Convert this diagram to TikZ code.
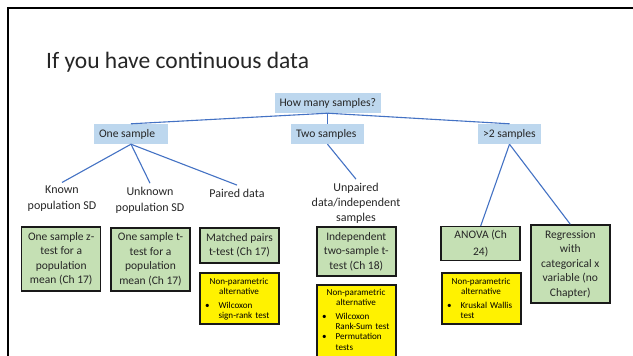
\documentclass[tikz,border=0pt]{standalone}
\usepackage{fontspec}
\setmainfont{Carlito}
\definecolor{gfill}{HTML}{C5E0B4}
\definecolor{bfill}{HTML}{BDD7EE}
\definecolor{lnc}{HTML}{4472C4}
\definecolor{txt}{HTML}{262626}
\newcommand{\nphead}{{\centering\rule{0pt}{7pt}Non-parametric\\alternative\par}\vspace{3.5pt}}
\newcommand{\npitem}[1]{\par\raggedright\leftskip=19pt\relax\noindent\llap{\textbullet\hspace{9pt}}#1\par}
\tikzset{
 gbox/.style={draw=black!90, line width=1.5pt, fill=gfill, minimum width=79pt, align=center, inner sep=0pt, text=txt, font=\fontsize{11.5}{14.5}\selectfont},
 bbox/.style={fill=bfill, inner xsep=5pt, inner ysep=0pt, minimum height=20pt, text=txt, font=\fontsize{11.6}{14}\selectfont},
 ybox/.style={draw=black!90, line width=1.3pt, fill=yellow, minimum width=79pt, inner sep=0pt},
 ytxt/.style={text width=79pt, inner sep=0pt, anchor=north west, font=\fontsize{9.1}{10.3}\selectfont, text=black},
 lbl/.style={align=center, inner sep=3.5pt, text=txt, font=\fontsize{12}{16}\selectfont},
 conn/.style={draw=lnc, line width=1.1pt},
}
\begin{document}
\begin{tikzpicture}[x=1pt,y=-1pt]
\useasboundingbox (0,0) rectangle (633,356);
\clip (0,0) rectangle (633,356);
\fill[white] (0,0) rectangle (633,356);
% slide frame
\draw[line width=2.6pt, black] (8,400) -- (8,8) -- (700,8);
% title
\node[anchor=base west, inner sep=0pt, font=\fontsize{23.5}{28}\selectfont, text=txt] (title) at (46,68) {If you have continuous data};
% blue boxes
\node[bbox] (top) at (327.5,103) {\makebox[96pt][l]{How many samples?}};
\node[bbox] (one) at (131,134) {\makebox[64pt][l]{One sample}};
\node[bbox] (two) at (327.5,134) {\makebox[63pt][l]{Two samples}};
\node[bbox] (more) at (509.5,134) {\makebox[53pt][l]{>2 samples}};
% labels
\node[lbl] (lk) at (62,199) {Known\\population SD};
\node[lbl] (lu) at (150,200) {Unknown\\population SD};
\node[lbl] (lp) at (237,193) {Paired data};
\node[lbl, font=\fontsize{12}{15}\selectfont] (lup) at (356,203) {Unpaired\\data/independent\\samples};
% green boxes
\node[gbox, minimum height=64pt] (gz) at (61.2,259) {One sample z-\\test for a\\population\\mean (Ch 17)};
\node[gbox, minimum height=63pt] (gt) at (150.5,259.5) {One sample t-\\test for a\\population\\mean (Ch 17)};
\node[gbox, minimum height=35pt] (gm) at (239.5,245.5) {Matched pairs\\t-test (Ch 17)};
\node[gbox, minimum height=49pt] (gi) at (356.3,251.5) {Independent\\two-sample t-\\test (Ch 18)};
\node[gbox, minimum height=34pt, font=\fontsize{11.5}{16.5}\selectfont] (ga) at (480.7,243.7) {ANOVA (Ch\\24)};
\node[gbox, minimum height=78pt] (gr) at (570.3,264) {Regression\\with\\categorical x\\variable (no\\Chapter)};
% yellow boxes
\node[ybox, minimum height=51pt] (y1) at (239.5,298.5) {};
\node[ytxt] (y1t) at ([yshift=-4.7pt]y1.north west) {\nphead\npitem{Wilcoxon\\sign-rank test}};
\node[ybox, minimum height=74pt] (y2) at (356.5,322) {};
\node[ytxt] (y2t) at ([yshift=-3.7pt]y2.north west) {\nphead\npitem{Wilcoxon\\Rank-Sum test}\npitem{Permutation\\tests}};
\node[ybox, minimum height=51pt] (y3) at (481.5,298.5) {};
\node[ytxt] (y3t) at ([yshift=-4.7pt]y3.north west) {\nphead\npitem{Kruskal Wallis\\test}};
% connectors
\draw[conn] (top.south) -- (one.north);
\draw[conn] (top.south) -- (two.north);
\draw[conn] (top.south) -- (more.north);
\draw[conn] (one.south) -- (lk.north);
\draw[conn] (one.south) -- (lu.north);
\draw[conn] (one.south) -- (lp.north);
\draw[conn] (two.south) -- (lup.north);
\draw[conn] (more.south) -- (ga.north);
\draw[conn] (more.south) -- (gr.north);
\end{tikzpicture}
\end{document}
